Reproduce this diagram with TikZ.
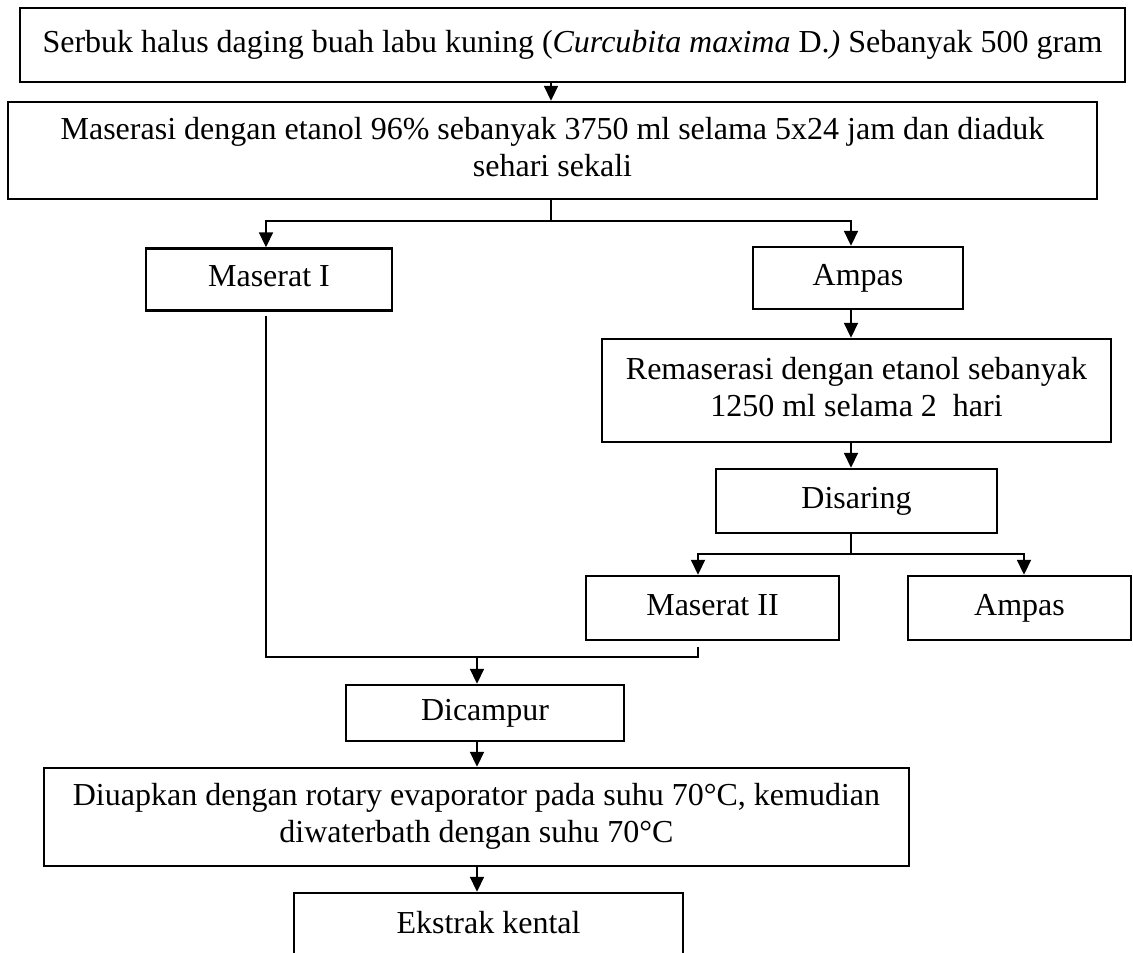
\documentclass[tikz,border=0pt]{standalone}
\usepackage{fontspec}
\setmainfont{Liberation Serif}
\usetikzlibrary{arrows.meta}
\newcommand\tst{\rule[-11.1pt]{0pt}{37pt}}
\begin{document}
\begin{tikzpicture}[x=1pt,y=-1pt,
  box/.style={draw=black,line width=2.4pt,inner sep=0pt,align=center,
    font=\fontsize{32pt}{37pt}\selectfont},
  ln/.style={line width=1.8pt,black},
  arr/.style={ln,-{Triangle[length=15pt,width=14pt]}}]
\useasboundingbox (0,0) rectangle (1133,953);
\clip (0,0) rectangle (1133,953);
\fill[white] (0,0) rectangle (1133,953);
% boxes
\node[box,minimum width=1105pt,minimum height=74pt] (b1) at (572.5,45)
  {\tst Serbuk halus daging buah labu kuning (\textit{Curcubita maxima} D.\textit{)} Sebanyak 500 gram};
\node[box,minimum width=1089pt,minimum height=97pt] (b2) at (552.5,150.5)
  {\tst Maserasi dengan etanol 96\% sebanyak 3750 ml selama 5x24 jam dan diaduk\\\tst sehari sekali};
\node[box,minimum width=246pt,minimum height=62pt] (m1) at (269,279.5) {\tst Maserat I};
\node[box,minimum width=210pt,minimum height=62pt] (am1) at (858,278) {\tst Ampas};
\node[box,minimum width=509pt,minimum height=103pt] (rem) at (856.5,390.5)
  {\tst Remaserasi dengan etanol sebanyak\\\tst 1250 ml selama 2\ \ hari};
\node[box,minimum width=281pt,minimum height=64pt] (dis) at (856.5,501) {\tst Disaring};
\node[box,minimum width=253pt,minimum height=64pt] (m2) at (712.5,608) {\tst Maserat II};
\node[box,minimum width=223pt,minimum height=64pt] (am2) at (1019.5,608) {\tst Ampas};
\node[box,minimum width=278pt,minimum height=56pt] (dic) at (485,713) {\tst Dicampur};
\node[box,minimum width=865pt,minimum height=98pt] (diu) at (476.5,817)
  {\tst Diuapkan dengan rotary evaporator pada suhu 70°C, kemudian\\\tst diwaterbath dengan suhu 70°C};
\node[box,minimum width=389pt,minimum height=66pt] (eks) at (488.5,926) {\tst Ekstrak kental};
% x positions of connectors
\coordinate (xa) at (551,0);
\coordinate (xl) at (266,0);
\coordinate (xr) at (851,0);
\coordinate (xm) at (698,0);
\coordinate (xq) at (1024,0);
\coordinate (xc) at (477,0);
\coordinate (j) at (477,657);
% connectors
\draw[arr] (b1.south -| xa) -- (b2.north -| xa);
\draw[ln] (b2.south -| xa) -- ++(0,21) coordinate (s1);
\draw[arr] (s1) -| (m1.north -| xl);
\draw[arr] (s1) -| (am1.north -| xr);
\draw[arr] (am1.south -| xr) -- (rem.north -| xr);
\draw[arr] (rem.south -| xr) -- (dis.north -| xr);
\draw[ln] (dis.south -| xr) -- ++(0,20) coordinate (s2);
\draw[arr] (s2) -| (m2.north -| xm);
\draw[arr] (s2) -| (am2.north -| xq);
\draw[ln] ([yshift=-4pt]m1.south -| xl) -- (xl |- j) -- (xm |- j) -- ([yshift=-6pt]m2.south -| xm);
\draw[arr] (j -| xc) -- (dic.north -| xc);
\draw[arr] (dic.south -| xc) -- (diu.north -| xc);
\draw[arr] (diu.south -| xc) -- (eks.north -| xc);
\end{tikzpicture}
\end{document}
